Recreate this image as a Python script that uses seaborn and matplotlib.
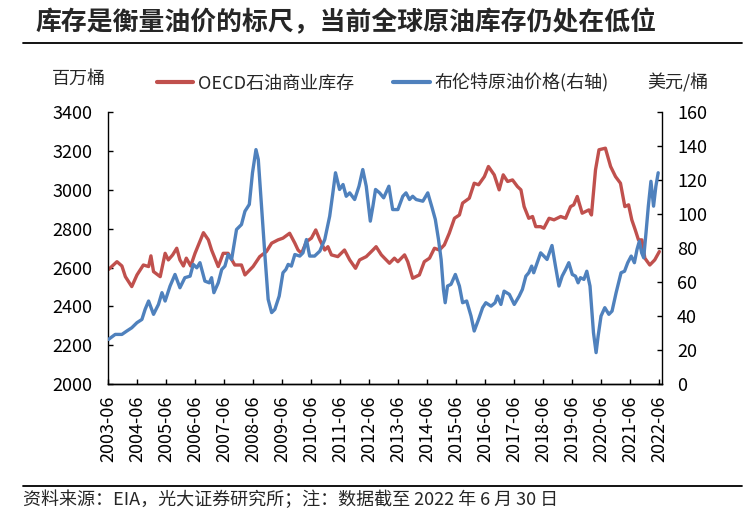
import matplotlib
matplotlib.use("Agg")
import matplotlib.pyplot as plt
from matplotlib.lines import Line2D
import seaborn as sns
import pandas as pd

# ---- data (decimal years) ----
oecd_year = [2003.52, 2003.81, 2003.98, 2004.10, 2004.32, 2004.50, 2004.72, 2004.90, 2004.98, 2005.07,
             2005.30, 2005.47, 2005.58, 2005.73, 2005.87, 2005.98, 2006.10, 2006.20, 2006.35, 2006.50,
             2006.79, 2006.96, 2007.07, 2007.30, 2007.47, 2007.64, 2007.87, 2008.10, 2008.22, 2008.50,
             2008.73, 2008.96, 2009.14, 2009.36, 2009.53, 2009.76, 2009.94, 2010.05, 2010.17, 2010.34,
             2010.51, 2010.66, 2010.80, 2010.97, 2011.08, 2011.20, 2011.42, 2011.65, 2011.83, 2012.03,
             2012.17, 2012.40, 2012.63, 2012.74, 2012.92, 2013.03, 2013.20, 2013.37, 2013.49, 2013.72,
             2013.83, 2014.00, 2014.23, 2014.40, 2014.58, 2014.75, 2014.92, 2015.09, 2015.26, 2015.44,
             2015.61, 2015.72, 2015.95, 2016.12, 2016.27, 2016.47, 2016.61, 2016.81, 2016.98, 2017.12,
             2017.27, 2017.44, 2017.61, 2017.73, 2017.84, 2018.00, 2018.13, 2018.24, 2018.41, 2018.52,
             2018.70, 2018.87, 2019.10, 2019.27, 2019.44, 2019.55, 2019.67, 2019.84, 2019.96, 2020.07,
             2020.16, 2020.30, 2020.42, 2020.64, 2020.82, 2020.99, 2021.16, 2021.31, 2021.44, 2021.55,
             2021.67, 2021.78, 2021.90, 2022.00, 2022.17, 2022.34, 2022.50]
oecd_stock = [2590, 2630, 2608, 2553, 2502, 2562, 2613, 2605, 2660, 2579,
              2553, 2673, 2639, 2665, 2699, 2639, 2608, 2648, 2608, 2673,
              2779, 2742, 2690, 2605, 2673, 2673, 2613, 2613, 2562, 2605,
              2656, 2682, 2725, 2742, 2751, 2776, 2725, 2690, 2673, 2733,
              2751, 2793, 2742, 2690, 2707, 2665, 2656, 2690, 2639, 2596,
              2639, 2656, 2690, 2707, 2665, 2648, 2622, 2648, 2630, 2665,
              2630, 2545, 2562, 2630, 2648, 2699, 2690, 2716, 2776, 2853,
              2870, 2931, 2956, 3033, 3025, 3067, 3119, 3076, 2999, 3076,
              3042, 3050, 3016, 2999, 2913, 2853, 2862, 2810, 2810, 2802,
              2853, 2845, 2862, 2853, 2913, 2922, 2965, 2879, 2888, 2896,
              2870, 3102, 3205, 3213, 3119, 3067, 3033, 2913, 2922, 2845,
              2793, 2742, 2742, 2648, 2613, 2639, 2682]

brent_year = [2003.52, 2003.75, 2003.98, 2004.15, 2004.32, 2004.50, 2004.67, 2004.78, 2004.90, 2005.07,
              2005.24, 2005.36, 2005.47, 2005.64, 2005.81, 2005.98, 2006.15, 2006.33, 2006.44, 2006.56,
              2006.67, 2006.84, 2006.99, 2007.07, 2007.15, 2007.30, 2007.42, 2007.53, 2007.64, 2007.76,
              2007.93, 2008.10, 2008.22, 2008.37, 2008.48, 2008.60, 2008.68, 2008.79, 2008.91, 2009.02,
              2009.14, 2009.25, 2009.40, 2009.53, 2009.63, 2009.71, 2009.82, 2009.94, 2010.11, 2010.22,
              2010.34, 2010.45, 2010.62, 2010.80, 2010.97, 2011.14, 2011.25, 2011.34, 2011.48, 2011.60,
              2011.71, 2011.83, 2012.00, 2012.15, 2012.28, 2012.40, 2012.54, 2012.63, 2012.72, 2012.86,
              2013.00, 2013.18, 2013.31, 2013.49, 2013.66, 2013.77, 2013.89, 2014.00, 2014.12, 2014.35,
              2014.52, 2014.67, 2014.78, 2014.89, 2014.98, 2015.06, 2015.12, 2015.20, 2015.32, 2015.47,
              2015.61, 2015.72, 2015.86, 2016.01, 2016.12, 2016.27, 2016.41, 2016.52, 2016.70, 2016.84,
              2016.92, 2017.04, 2017.15, 2017.33, 2017.50, 2017.67, 2017.78, 2017.90, 2018.00, 2018.10,
              2018.17, 2018.29, 2018.41, 2018.52, 2018.63, 2018.80, 2018.92, 2019.04, 2019.15, 2019.27,
              2019.38, 2019.50, 2019.61, 2019.70, 2019.78, 2019.90, 2020.00, 2020.11, 2020.23, 2020.32,
              2020.39, 2020.49, 2020.62, 2020.76, 2020.87, 2021.01, 2021.18, 2021.30, 2021.41, 2021.53,
              2021.64, 2021.73, 2021.81, 2021.89, 2021.96, 2022.04, 2022.12, 2022.21, 2022.30, 2022.38,
              2022.46]
brent_price = [26.4, 29.3, 29.3, 31.3, 33.2, 36.2, 38.1, 44.0, 48.9, 41.1,
               46.9, 53.8, 48.9, 57.7, 64.5, 56.7, 62.6, 63.5, 70.4, 68.4,
               71.4, 60.6, 59.6, 62.6, 53.8, 59.6, 67.4, 69.4, 76.2, 73.3,
               90.9, 93.8, 101.6, 105.6, 124.2, 137.8, 132.0, 104.6, 75.3, 49.9,
               42.1, 44.0, 51.8, 65.5, 67.4, 70.4, 69.4, 76.2, 75.3, 77.2,
               85.0, 75.3, 75.3, 78.2, 85.0, 98.7, 112.4, 124.2, 114.4, 117.3,
               110.4, 112.4, 108.5, 116.3, 126.1, 116.3, 95.8, 104.6, 114.4, 112.4,
               109.5, 116.3, 102.6, 102.6, 110.4, 112.4, 108.5, 110.4, 108.5, 107.5,
               112.4, 103.6, 96.8, 85.0, 73.3, 55.7, 47.9, 57.7, 58.7, 64.5,
               57.7, 47.9, 48.9, 40.1, 31.3, 38.1, 45.0, 47.9, 45.9, 47.9,
               51.8, 46.9, 54.7, 52.8, 46.9, 51.8, 55.7, 63.5, 65.5, 69.4,
               65.5, 71.4, 77.2, 75.3, 73.3, 81.5, 69.4, 57.7, 63.5, 67.4,
               71.4, 64.5, 63.5, 59.6, 62.6, 61.6, 66.4, 57.7, 30.3, 18.6,
               28.3, 40.1, 45.0, 41.1, 43.0, 53.8, 65.5, 66.4, 71.4, 75.3,
               71.4, 79.2, 84.0, 77.2, 74.3, 89.0, 104.6, 119.2, 104.6, 116.3,
               124.2]

tick_years = list(range(2003, 2023))
tick_labels = [f"{y}-06" for y in tick_years]
left_ticks = [2000, 2200, 2400, 2600, 2800, 3000, 3200, 3400]
right_ticks = [0, 20, 40, 60, 80, 100, 120, 140, 160]

oecd = pd.DataFrame({"year": oecd_year, "stock": oecd_stock})
brent = pd.DataFrame({"year": brent_year, "price": brent_price})

RED = "#C0504D"
BLUE = "#4F81BD"

sns.set_theme(style="ticks")
plt.rcParams["font.family"] = ["Noto Sans CJK SC", "DejaVu Sans"]
plt.rcParams["axes.unicode_minus"] = False

fig = plt.figure(figsize=(7.55, 5.14), dpi=100)
ax = fig.add_axes([0.143, 0.2523, 0.7334, 0.5302])
ax2 = ax.twinx()

sns.lineplot(data=oecd, x="year", y="stock", ax=ax, color=RED, linewidth=2.4,
             label="OECD石油商业库存", legend=False)
sns.lineplot(data=brent, x="year", y="price", ax=ax2, color=BLUE, linewidth=2.4,
             label="布伦特原油价格(右轴)", legend=False)

ax.set_xlim(2003.5, 2022.58)
ax.set_ylim(2000, 3400)
ax2.set_ylim(0, 160)
ax.set_xticks([y + 0.5 for y in tick_years])
ax.set_xticklabels(tick_labels, rotation=90)
ax.set_yticks(left_ticks)
ax2.set_yticks(right_ticks)
ax.set_xlabel("")
ax.set_ylabel("")
ax2.set_ylabel("")

for a in (ax, ax2):
    a.spines["top"].set_visible(False)
    for s in a.spines.values():
        s.set_color("black")
        s.set_linewidth(1.0)
    a.grid(False)
ax.spines["right"].set_visible(False)
ax2.spines["left"].set_visible(False)

ax.tick_params(axis="y", direction="in", length=3.5, width=1, colors="black",
               labelsize=13, pad=11)
ax.tick_params(axis="x", direction="in", length=3.5, width=1, colors="black",
               labelsize=13, pad=8)
ax2.tick_params(axis="y", direction="in", length=3.5, width=1, colors="black",
                labelsize=13, pad=11)

# unit labels
fig.text(52 / 755, 1 - 79 / 514, "百万桶", fontsize=13, va="center", ha="left")
fig.text(647 / 755, 1 - 83 / 514, "美元/桶", fontsize=13, va="center", ha="left")

# legend
handles = [Line2D([], [], color=RED, lw=3), Line2D([], [], color=BLUE, lw=3)]
fig.legend(handles, ["OECD石油商业库存", "布伦特原油价格(右轴)"], loc="center left",
           bbox_to_anchor=(157 / 755, 1 - 83 / 514), ncol=2, frameon=False,
           fontsize=13, handlelength=2.0, handletextpad=0.25, columnspacing=2.2,
           borderpad=0, borderaxespad=0)

# title, rules and source
fig.text(35 / 755, 1 - 23 / 514, "库存是衡量油价的标尺，当前全球原油库存仍处在低位",
         fontsize=18.6, fontweight="bold", va="center", ha="left")
fig.add_artist(Line2D([23 / 755, 742 / 755], [1 - 42.7 / 514] * 2, color="black", lw=1.3))
fig.add_artist(Line2D([23 / 755, 742 / 755], [1 - 486 / 514] * 2, color="black", lw=1.3))
fig.text(23 / 755, 1 - 500 / 514, "资料来源：EIA，光大证券研究所；注：数据截至 2022 年 6 月 30 日",
         fontsize=13, va="center", ha="left")

fig.savefig("out.png", dpi=100)
